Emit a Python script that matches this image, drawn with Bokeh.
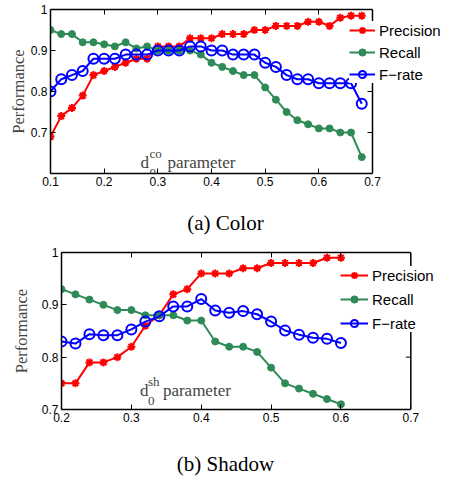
from bokeh.plotting import figure
from bokeh.layouts import column, row, Spacer
from bokeh.models import (LinearAxis, FixedTicker, Label, Legend, LegendItem,
                          Range1d, PrintfTickFormatter, Span)
from bokeh.embed import file_html
from bokeh.resources import INLINE

# ---------------- data: (a) Color ----------------
color_x = [0.10, 0.12, 0.14, 0.16, 0.18, 0.20, 0.22, 0.24, 0.26, 0.28,
           0.30, 0.32, 0.34, 0.36, 0.38, 0.40, 0.42, 0.44, 0.46, 0.48,
           0.50, 0.52, 0.54, 0.56, 0.58, 0.60, 0.62, 0.64, 0.66, 0.68]
color_precision = [0.69, 0.74, 0.76, 0.79, 0.84, 0.85, 0.86, 0.87, 0.88, 0.88,
                   0.91, 0.91, 0.91, 0.93, 0.93, 0.93, 0.94, 0.94, 0.94, 0.95,
                   0.95, 0.96, 0.96, 0.96, 0.97, 0.97, 0.96, 0.98, 0.985, 0.985]
color_recall = [0.95, 0.94, 0.94, 0.92, 0.92, 0.915, 0.91, 0.92, 0.905, 0.91,
                0.90, 0.90, 0.90, 0.90, 0.89, 0.87, 0.86, 0.85, 0.84, 0.84,
                0.81, 0.78, 0.75, 0.73, 0.72, 0.71, 0.71, 0.70, 0.70, 0.64]
color_frate = [0.80, 0.83, 0.84, 0.85, 0.88, 0.88, 0.88, 0.89, 0.89, 0.89,
               0.90, 0.90, 0.90, 0.91, 0.91, 0.90, 0.90, 0.89, 0.89, 0.89,
               0.87, 0.86, 0.84, 0.83, 0.83, 0.82, 0.82, 0.82, 0.82, 0.77]

# ---------------- data: (b) Shadow ----------------
shadow_x = [0.20, 0.22, 0.24, 0.26, 0.28, 0.30, 0.32, 0.34, 0.36, 0.38,
            0.40, 0.42, 0.44, 0.46, 0.48, 0.50, 0.52, 0.54, 0.56, 0.58, 0.60]
shadow_precision = [0.75, 0.75, 0.79, 0.79, 0.80, 0.82, 0.86, 0.88, 0.92, 0.93,
                    0.96, 0.96, 0.96, 0.97, 0.97, 0.98, 0.98, 0.98, 0.98, 0.99, 0.99]
shadow_recall = [0.93, 0.92, 0.91, 0.90, 0.89, 0.89, 0.88, 0.88, 0.88, 0.87,
                 0.87, 0.83, 0.82, 0.82, 0.81, 0.78, 0.75, 0.74, 0.73, 0.72, 0.71]
shadow_frate = [0.83, 0.826, 0.844, 0.842, 0.842, 0.853, 0.868, 0.878, 0.897, 0.897,
                0.911, 0.889, 0.885, 0.888, 0.882, 0.868, 0.851, 0.843, 0.837, 0.835, 0.827]

series_names = ["Precision", "Recall", "F\u2212rate"]
captions = ["(a) Color", "(b) Shadow"]
y_ticks = [0.7, 0.8, 0.9, 1.0]
color_x_ticks = [0.1, 0.2, 0.3, 0.4, 0.5, 0.6, 0.7]
shadow_x_ticks = [0.2, 0.3, 0.4, 0.5, 0.6, 0.7]

RED = "#ff0000"
GREEN = "#2e8b57"
BLUE = "#0000ff"
SANS = "Liberation Sans"
SERIF = "Liberation Serif"
W = 452
TICK = 5


def style_axis(ax, ticks, show_labels=True, bounds=None):
    ax.ticker = FixedTicker(ticks=ticks)
    ax.formatter = PrintfTickFormatter(format="%g")
    ax.axis_line_color = "black"
    ax.axis_line_width = 1.5
    if bounds is not None:
        ax.bounds = bounds
    ax.major_tick_in = TICK
    ax.major_tick_out = 0
    ax.major_tick_line_color = "black"
    ax.major_tick_line_width = 1
    ax.minor_tick_line_color = None
    ax.major_label_text_font = SANS
    if show_labels:
        ax.major_label_text_color = "black"
        ax.major_label_text_font_size = "12px"
        ax.major_label_standoff = 3
    else:
        ax.major_label_text_color = None
        ax.major_label_text_font_size = "0px"
        ax.major_label_standoff = 0


def make_panel(xs, prec, rec, frate, xlim, ylim, xticks, fig_w, height,
               frame_left, frame_top, frame_bottom, x_right_px, ylab_standoff,
               legend_box, legend_gap, glyph_w, sym, ann):
    # frame spans to the right edge of the figure so the legend may overlap it
    ppu = (x_right_px - frame_left) / (xlim[1] - xlim[0])
    x_end = xlim[0] + (fig_w - frame_left) / ppu
    p = figure(width=fig_w, height=height, x_range=Range1d(xlim[0], x_end),
               y_range=Range1d(*ylim),
               output_backend="svg", toolbar_location=None,
               min_border_left=frame_left, min_border_right=0,
               min_border_top=frame_top, min_border_bottom=height - frame_bottom,
               x_axis_type=None, y_axis_type=None)
    p.grid.visible = False
    p.outline_line_color = None
    p.background_fill_color = "white"
    p.border_fill_color = "white"

    xb = LinearAxis()
    style_axis(xb, xticks, bounds=xlim)
    p.add_layout(xb, "below")
    yl = LinearAxis(axis_label="Performance")
    style_axis(yl, y_ticks)
    yl.axis_label_text_font = SERIF
    yl.axis_label_text_font_style = "normal"
    yl.axis_label_text_font_size = "16.5px"
    yl.axis_label_standoff = ylab_standoff
    p.add_layout(yl, "left")
    xa = LinearAxis()
    style_axis(xa, xticks, show_labels=False, bounds=xlim)
    p.add_layout(xa, "above")

    # right-hand box edge and its inward ticks
    p.segment(x0=[xlim[1] - TICK / ppu] * len(y_ticks), y0=y_ticks,
              x1=[xlim[1]] * len(y_ticks), y1=y_ticks, line_color="black", line_width=1)
    p.add_layout(Span(location=xlim[1], dimension="height", line_color="black",
                      line_width=1.5))

    l1 = p.line(xs, prec, line_color=RED, line_width=2)
    m1 = p.scatter(xs, prec, marker="asterisk", size=8, line_color=RED, line_width=2)
    l2 = p.line(xs, rec, line_color=GREEN, line_width=2)
    m2 = p.scatter(xs, rec, marker="circle", size=7, line_color=GREEN,
                   fill_color=GREEN, line_width=1)
    l3 = p.line(xs, frate, line_color=BLUE, line_width=2)
    m3 = p.scatter(xs, frate, marker="circle", size=10, line_color=BLUE,
                   fill_color=None, line_width=2)

    bx, by = legend_box
    legend = Legend(items=[
        LegendItem(label=series_names[0], renderers=[l1, m1]),
        LegendItem(label=series_names[1], renderers=[l2, m2]),
        LegendItem(label=series_names[2], renderers=[l3, m3]),
    ], location=(bx - frame_left, frame_bottom - by))
    legend.border_line_color = None
    legend.background_fill_color = "white"
    legend.background_fill_alpha = 1.0
    legend.padding = 4
    legend.margin = 0
    legend.spacing = legend_gap
    legend.glyph_width = glyph_w
    legend.glyph_height = 18
    legend.label_height = 18
    legend.label_standoff = 4
    legend.label_text_font = SANS
    legend.label_text_font_size = "15px"
    legend.label_text_color = "black"
    legend.label_text_baseline = "middle"
    p.add_layout(legend, "center")

    # inner annotation  d_0^{sym} parameter
    ax_, ay_, sub_dx, par_dx = ann
    p.add_layout(Label(x=ax_, y=ay_, text="d", text_font=SERIF,
                       text_font_size="17px", text_baseline="alphabetic"))
    p.add_layout(Label(x=ax_, y=ay_, x_offset=sub_dx, y_offset=9, text=sym,
                       text_font=SERIF, text_font_size="13px",
                       text_baseline="alphabetic"))
    p.add_layout(Label(x=ax_, y=ay_, x_offset=sub_dx, y_offset=-10, text="0",
                       text_font=SERIF, text_font_size="13px",
                       text_baseline="alphabetic"))
    p.add_layout(Label(x=ax_, y=ay_, x_offset=par_dx, y_offset=0,
                       text="parameter", text_font=SERIF, text_font_size="17px",
                       text_baseline="alphabetic"))
    return p


def caption_strip(text, height, cx, cy_from_bottom):
    c = figure(width=W, height=height, output_backend="svg", toolbar_location=None,
               min_border_left=0, min_border_right=0, min_border_top=0,
               min_border_bottom=0, x_axis_type=None, y_axis_type=None,
               x_range=Range1d(0, 1), y_range=Range1d(0, 1))
    c.grid.visible = False
    c.outline_line_color = None
    c.background_fill_color = "white"
    c.border_fill_color = "white"
    c.add_layout(Label(x=cx, y=cy_from_bottom, x_units="screen", y_units="screen",
                       text=text, text_font=SERIF, text_font_size="21px",
                       text_align="center", text_baseline="middle",
                       text_color="black"))
    return c


# page rows: top panel 0..195, caption 195..240, bottom panel 240..440, caption 440..481
TOP_H, CAPA_H, BOT_H, CAPB_H = 195, 45, 200, 41

top = make_panel(color_x, color_precision, color_recall, color_frate,
                 (0.1, 0.7), (0.6, 1.0), color_x_ticks, W, TOP_H,
                 50, 9, 173, 372, 0,
                 (349, 83), 4, 26, "co", (0.2677, 0.6268, 9, 27))

SHIFT = 8   # bottom panel starts 8px further right
bottom = make_panel(shadow_x, shadow_precision, shadow_recall, shadow_frate,
                    (0.2, 0.7), (0.7, 1.0), shadow_x_ticks, W - SHIFT, BOT_H,
                    50, 12, 169, 410 - SHIFT, 8,
                    (337 - SHIFT, 332 - 240), 6, 28, "sh", (0.3122, 0.7363, 8, 23))

cap_a = caption_strip(captions[0], CAPA_H, 225, 240 - 222)
cap_b = caption_strip(captions[1], CAPB_H, 225, 481 - 463)

layout = column(top,
                row(cap_a),
                row(Spacer(width=SHIFT, height=BOT_H), bottom, spacing=0),
                row(cap_b),
                spacing=0)
open("out.html", "w").write(file_html(layout, INLINE))
